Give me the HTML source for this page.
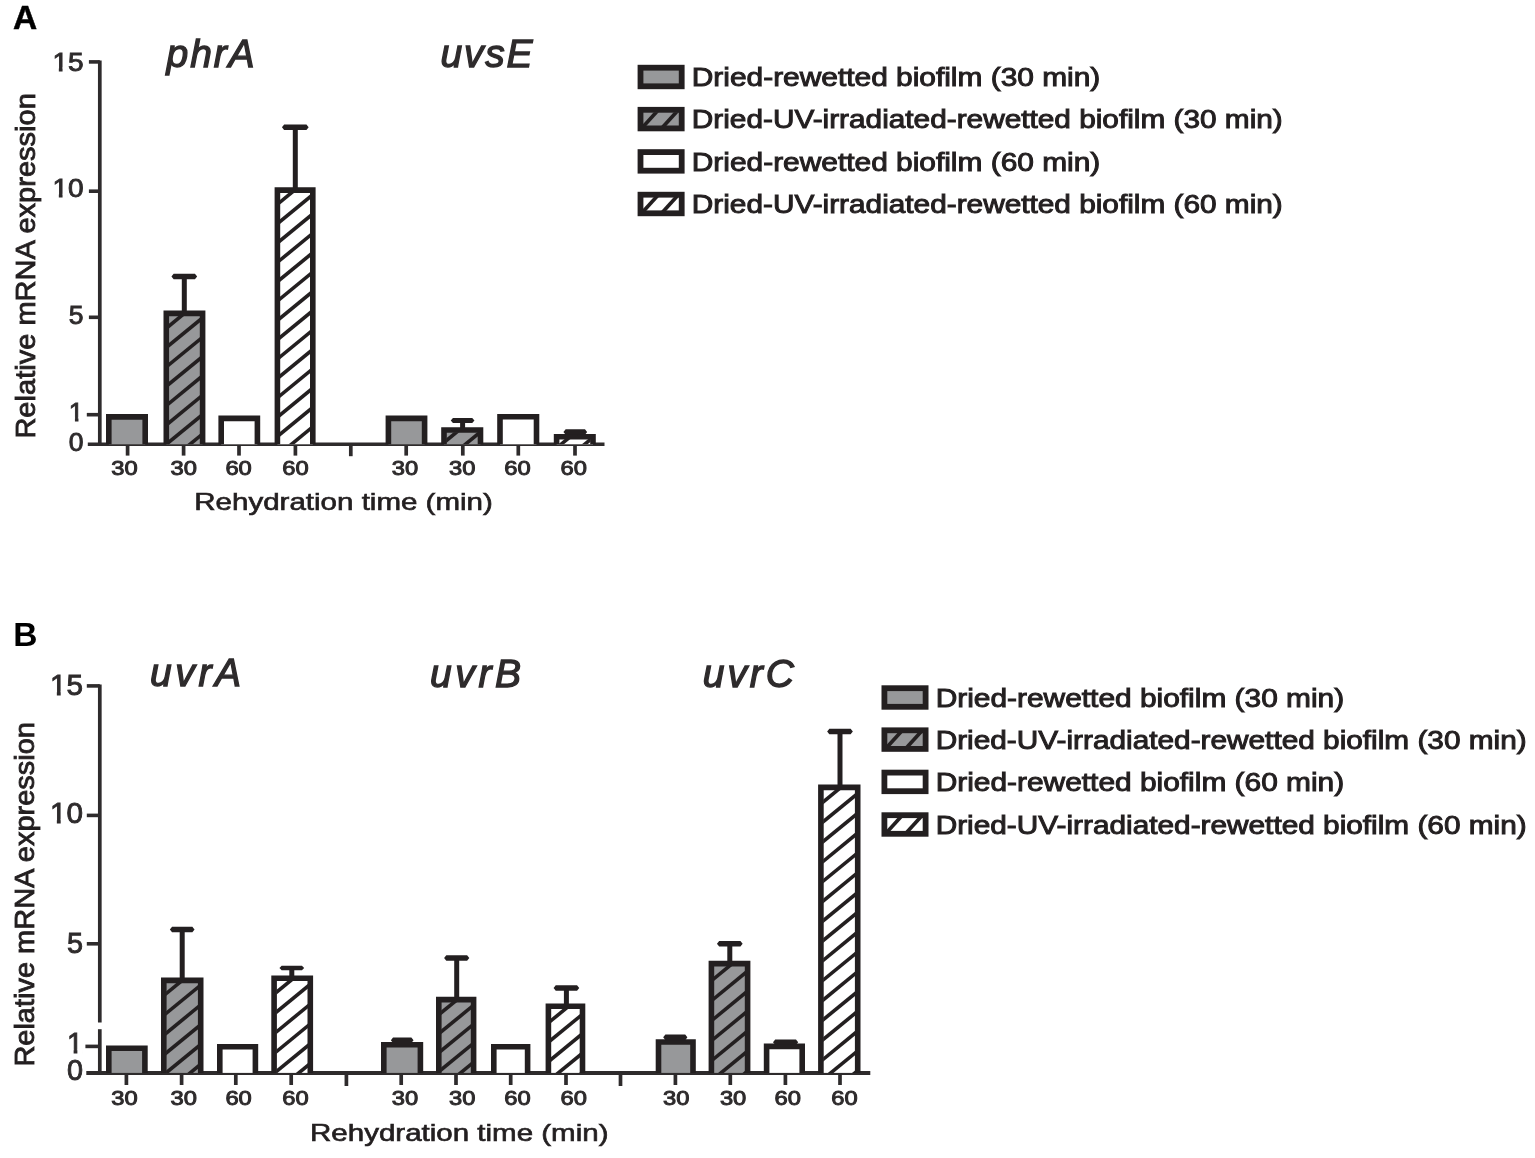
<!DOCTYPE html>
<html lang="en"><head><meta charset="utf-8"><title>Figure</title>
<style>
html,body{margin:0;padding:0;background:#fff;}
body{width:1535px;height:1158px;overflow:hidden;}
svg{display:block;}
text{white-space:pre;}
</style></head>
<body>
<svg width="1535" height="1158" viewBox="0 0 1535 1158">
<defs><clipPath id="c1"><rect x="168.60" y="315.70" width="31.70" height="128.60"/></clipPath><clipPath id="c2"><rect x="279.70" y="192.40" width="30.80" height="251.90"/></clipPath><clipPath id="c3"><rect x="446.30" y="432.30" width="31.90" height="12.00"/></clipPath><clipPath id="c4"><rect x="558.90" y="439.10" width="31.80" height="5.20"/></clipPath><clipPath id="c5"><rect x="166.10" y="982.70" width="32.30" height="90.20"/></clipPath><clipPath id="c6"><rect x="276.40" y="980.50" width="31.60" height="92.40"/></clipPath><clipPath id="c7"><rect x="441.10" y="1001.90" width="30.20" height="71.00"/></clipPath><clipPath id="c8"><rect x="550.70" y="1008.50" width="29.50" height="64.40"/></clipPath><clipPath id="c9"><rect x="713.70" y="965.90" width="31.60" height="107.00"/></clipPath><clipPath id="c10"><rect x="823.20" y="789.70" width="32.20" height="283.20"/></clipPath><clipPath id="c11"><rect x="642.90" y="112.20" width="36.40" height="13.80"/></clipPath><clipPath id="c12"><rect x="642.90" y="197.10" width="36.40" height="13.80"/></clipPath><clipPath id="c13"><rect x="886.80" y="732.70" width="36.40" height="13.80"/></clipPath><clipPath id="c14"><rect x="886.80" y="817.60" width="36.40" height="13.80"/></clipPath></defs>
<rect width="1535" height="1158" fill="#fff"/>
<text x="12.90" y="29.00" font-family='"Liberation Sans", Arial, Helvetica, sans-serif' font-size="33.5" fill="#000" font-weight="bold" stroke="#000" stroke-width="0.5">A</text>
<line x1="99.80" y1="60.40" x2="99.80" y2="444.30" stroke="#2e2b2c" stroke-width="3.7"/>
<line x1="88.90" y1="61.90" x2="99.80" y2="61.90" stroke="#2e2b2c" stroke-width="3.6"/>
<line x1="88.90" y1="191.20" x2="99.80" y2="191.20" stroke="#2e2b2c" stroke-width="3.6"/>
<line x1="88.90" y1="317.30" x2="99.80" y2="317.30" stroke="#2e2b2c" stroke-width="3.6"/>
<line x1="86.80" y1="414.70" x2="99.80" y2="414.70" stroke="#2e2b2c" stroke-width="3.6"/>
<line x1="87.80" y1="444.30" x2="604.50" y2="444.30" stroke="#2e2b2c" stroke-width="3.6"/>
<text x="83.60" y="71.00" font-family='"Liberation Sans", Arial, Helvetica, sans-serif' font-size="26.5" fill="#2e2b2c" text-anchor="end" textLength="31.20" lengthAdjust="spacingAndGlyphs" stroke="#2e2b2c" stroke-width="0.9">15</text>
<rect x="53.28" y="67.47" width="5.55" height="4.58" fill="#fff"/>
<rect x="62.56" y="67.47" width="5.32" height="4.58" fill="#fff"/>
<text x="83.60" y="197.40" font-family='"Liberation Sans", Arial, Helvetica, sans-serif' font-size="26.5" fill="#2e2b2c" text-anchor="end" textLength="31.20" lengthAdjust="spacingAndGlyphs" stroke="#2e2b2c" stroke-width="0.9">10</text>
<rect x="53.28" y="193.87" width="5.55" height="4.58" fill="#fff"/>
<rect x="62.56" y="193.87" width="5.32" height="4.58" fill="#fff"/>
<text x="83.60" y="323.60" font-family='"Liberation Sans", Arial, Helvetica, sans-serif' font-size="26.5" fill="#2e2b2c" text-anchor="end" stroke="#2e2b2c" stroke-width="0.9">5</text>
<text x="83.60" y="421.00" font-family='"Liberation Sans", Arial, Helvetica, sans-serif' font-size="26.5" fill="#2e2b2c" text-anchor="end" stroke="#2e2b2c" stroke-width="0.9">1</text>
<rect x="69.62" y="417.47" width="5.30" height="4.58" fill="#fff"/>
<rect x="78.47" y="417.47" width="5.09" height="4.58" fill="#fff"/>
<text x="83.60" y="451.30" font-family='"Liberation Sans", Arial, Helvetica, sans-serif' font-size="26.5" fill="#2e2b2c" text-anchor="end" stroke="#2e2b2c" stroke-width="0.9">0</text>
<line x1="127.60" y1="444.30" x2="127.60" y2="455.60" stroke="#2e2b2c" stroke-width="3.7"/>
<line x1="183.60" y1="444.30" x2="183.60" y2="455.60" stroke="#2e2b2c" stroke-width="3.7"/>
<line x1="239.00" y1="444.30" x2="239.00" y2="455.60" stroke="#2e2b2c" stroke-width="3.7"/>
<line x1="295.40" y1="444.30" x2="295.40" y2="455.60" stroke="#2e2b2c" stroke-width="3.7"/>
<line x1="406.20" y1="444.30" x2="406.20" y2="455.60" stroke="#2e2b2c" stroke-width="3.7"/>
<line x1="462.80" y1="444.30" x2="462.80" y2="455.60" stroke="#2e2b2c" stroke-width="3.7"/>
<line x1="518.30" y1="444.30" x2="518.30" y2="455.60" stroke="#2e2b2c" stroke-width="3.7"/>
<line x1="575.00" y1="444.30" x2="575.00" y2="455.60" stroke="#2e2b2c" stroke-width="3.7"/>
<line x1="350.80" y1="444.30" x2="350.80" y2="456.20" stroke="#2e2b2c" stroke-width="3.7"/>
<text x="124.40" y="475.40" font-family='"Liberation Sans", Arial, Helvetica, sans-serif' font-size="21" fill="#2e2b2c" text-anchor="middle" textLength="26.40" lengthAdjust="spacingAndGlyphs" stroke="#2e2b2c" stroke-width="1.0">30</text>
<text x="183.70" y="475.40" font-family='"Liberation Sans", Arial, Helvetica, sans-serif' font-size="21" fill="#2e2b2c" text-anchor="middle" textLength="26.40" lengthAdjust="spacingAndGlyphs" stroke="#2e2b2c" stroke-width="1.0">30</text>
<text x="238.60" y="475.40" font-family='"Liberation Sans", Arial, Helvetica, sans-serif' font-size="21" fill="#2e2b2c" text-anchor="middle" textLength="26.40" lengthAdjust="spacingAndGlyphs" stroke="#2e2b2c" stroke-width="1.0">60</text>
<text x="295.50" y="475.40" font-family='"Liberation Sans", Arial, Helvetica, sans-serif' font-size="21" fill="#2e2b2c" text-anchor="middle" textLength="26.40" lengthAdjust="spacingAndGlyphs" stroke="#2e2b2c" stroke-width="1.0">60</text>
<text x="405.00" y="475.40" font-family='"Liberation Sans", Arial, Helvetica, sans-serif' font-size="21" fill="#2e2b2c" text-anchor="middle" textLength="26.40" lengthAdjust="spacingAndGlyphs" stroke="#2e2b2c" stroke-width="1.0">30</text>
<text x="462.30" y="475.40" font-family='"Liberation Sans", Arial, Helvetica, sans-serif' font-size="21" fill="#2e2b2c" text-anchor="middle" textLength="26.40" lengthAdjust="spacingAndGlyphs" stroke="#2e2b2c" stroke-width="1.0">30</text>
<text x="517.40" y="475.40" font-family='"Liberation Sans", Arial, Helvetica, sans-serif' font-size="21" fill="#2e2b2c" text-anchor="middle" textLength="26.40" lengthAdjust="spacingAndGlyphs" stroke="#2e2b2c" stroke-width="1.0">60</text>
<text x="573.70" y="475.40" font-family='"Liberation Sans", Arial, Helvetica, sans-serif' font-size="21" fill="#2e2b2c" text-anchor="middle" textLength="26.40" lengthAdjust="spacingAndGlyphs" stroke="#2e2b2c" stroke-width="1.0">60</text>
<text x="194.30" y="510.20" font-family='"Liberation Sans", Arial, Helvetica, sans-serif' font-size="24" fill="#231f20" textLength="298.50" lengthAdjust="spacingAndGlyphs" stroke="#231f20" stroke-width="0.65">Rehydration time (min)</text>
<text x="35.20" y="438.60" font-family='"Liberation Sans", Arial, Helvetica, sans-serif' font-size="28" fill="#231f20" textLength="345.50" lengthAdjust="spacingAndGlyphs" stroke="#231f20" stroke-width="0.85" transform="rotate(-90 35.20 438.60)">Relative mRNA expression</text>
<text x="166.60" y="66.90" font-family='"Liberation Sans", Arial, Helvetica, sans-serif' font-size="39" fill="#2e2b2c" font-style="italic" textLength="88.00" lengthAdjust="spacing" stroke="#2e2b2c" stroke-width="1.3">phrA</text>
<text x="440.60" y="66.90" font-family='"Liberation Sans", Arial, Helvetica, sans-serif' font-size="39" fill="#2e2b2c" font-style="italic" textLength="92.00" lengthAdjust="spacing" stroke="#2e2b2c" stroke-width="1.3">uvsE</text>
<rect x="108.80" y="416.90" width="36.40" height="27.40" fill="#97989a"/>
<path d="M108.80 444.30V416.90H145.20V444.30" fill="none" stroke="#231f20" stroke-width="5.6" stroke-linejoin="miter"/>
<rect x="166.30" y="313.40" width="36.30" height="130.90" fill="#97989a"/>
<g clip-path="url(#c1)" stroke="#231f20" stroke-width="3.6" fill="none"><line x1="165.60" y1="290.09" x2="203.30" y2="259.17"/><line x1="165.60" y1="309.44" x2="203.30" y2="278.52"/><line x1="165.60" y1="328.79" x2="203.30" y2="297.87"/><line x1="165.60" y1="348.14" x2="203.30" y2="317.22"/><line x1="165.60" y1="367.49" x2="203.30" y2="336.57"/><line x1="165.60" y1="386.84" x2="203.30" y2="355.92"/><line x1="165.60" y1="406.19" x2="203.30" y2="375.27"/><line x1="165.60" y1="425.54" x2="203.30" y2="394.62"/><line x1="165.60" y1="444.89" x2="203.30" y2="413.97"/><line x1="165.60" y1="464.24" x2="203.30" y2="433.32"/><line x1="165.60" y1="483.59" x2="203.30" y2="452.67"/></g>
<path d="M166.30 444.30V313.40H202.60V444.30" fill="none" stroke="#231f20" stroke-width="5.6" stroke-linejoin="miter"/>
<rect x="221.20" y="418.40" width="36.20" height="25.90" fill="#fff"/>
<path d="M221.20 444.30V418.40H257.40V444.30" fill="none" stroke="#231f20" stroke-width="5.6" stroke-linejoin="miter"/>
<rect x="277.40" y="190.10" width="35.40" height="254.20" fill="#fff"/>
<g clip-path="url(#c2)" stroke="#231f20" stroke-width="3.6" fill="none"><line x1="276.70" y1="166.15" x2="313.50" y2="135.98"/><line x1="276.70" y1="185.50" x2="313.50" y2="155.33"/><line x1="276.70" y1="204.85" x2="313.50" y2="174.68"/><line x1="276.70" y1="224.20" x2="313.50" y2="194.03"/><line x1="276.70" y1="243.55" x2="313.50" y2="213.38"/><line x1="276.70" y1="262.90" x2="313.50" y2="232.73"/><line x1="276.70" y1="282.25" x2="313.50" y2="252.08"/><line x1="276.70" y1="301.60" x2="313.50" y2="271.43"/><line x1="276.70" y1="320.95" x2="313.50" y2="290.78"/><line x1="276.70" y1="340.30" x2="313.50" y2="310.13"/><line x1="276.70" y1="359.65" x2="313.50" y2="329.48"/><line x1="276.70" y1="379.00" x2="313.50" y2="348.83"/><line x1="276.70" y1="398.35" x2="313.50" y2="368.18"/><line x1="276.70" y1="417.70" x2="313.50" y2="387.53"/><line x1="276.70" y1="437.05" x2="313.50" y2="406.88"/><line x1="276.70" y1="456.40" x2="313.50" y2="426.23"/><line x1="276.70" y1="475.75" x2="313.50" y2="445.58"/><line x1="276.70" y1="495.10" x2="313.50" y2="464.93"/></g>
<path d="M277.40 444.30V190.10H312.80V444.30" fill="none" stroke="#231f20" stroke-width="5.6" stroke-linejoin="miter"/>
<line x1="184.30" y1="276.50" x2="184.30" y2="311.00" stroke="#231f20" stroke-width="5"/>
<polygon points="171.45,276.50 173.65,273.75 194.95,273.75 197.15,276.50 194.95,279.25 173.65,279.25" fill="#231f20"/>
<line x1="295.30" y1="127.20" x2="295.30" y2="188.00" stroke="#231f20" stroke-width="5"/>
<polygon points="281.95,127.20 284.15,124.45 306.45,124.45 308.65,127.20 306.45,129.95 284.15,129.95" fill="#231f20"/>
<rect x="388.40" y="418.40" width="36.20" height="25.90" fill="#97989a"/>
<path d="M388.40 444.30V418.40H424.60V444.30" fill="none" stroke="#231f20" stroke-width="5.6" stroke-linejoin="miter"/>
<rect x="444.00" y="430.00" width="36.50" height="14.30" fill="#97989a"/>
<g clip-path="url(#c3)" stroke="#231f20" stroke-width="3.6" fill="none"><line x1="443.30" y1="423.68" x2="481.20" y2="392.61"/><line x1="443.30" y1="443.03" x2="481.20" y2="411.96"/><line x1="443.30" y1="462.38" x2="481.20" y2="431.31"/><line x1="443.30" y1="481.73" x2="481.20" y2="450.66"/><line x1="443.30" y1="501.08" x2="481.20" y2="470.01"/></g>
<path d="M444.00 444.30V430.00H480.50V444.30" fill="none" stroke="#231f20" stroke-width="5.6" stroke-linejoin="miter"/>
<rect x="500.00" y="416.80" width="36.50" height="27.50" fill="#fff"/>
<path d="M500.00 444.30V416.80H536.50V444.30" fill="none" stroke="#231f20" stroke-width="5.6" stroke-linejoin="miter"/>
<rect x="556.60" y="436.80" width="36.40" height="7.50" fill="#fff"/>
<g clip-path="url(#c4)" stroke="#231f20" stroke-width="3.6" fill="none"><line x1="555.90" y1="429.19" x2="593.70" y2="398.20"/><line x1="555.90" y1="448.54" x2="593.70" y2="417.55"/><line x1="555.90" y1="467.89" x2="593.70" y2="436.90"/><line x1="555.90" y1="487.24" x2="593.70" y2="456.25"/></g>
<path d="M556.60 444.30V436.80H593.00V444.30" fill="none" stroke="#231f20" stroke-width="5.6" stroke-linejoin="miter"/>
<line x1="462.60" y1="420.60" x2="462.60" y2="428.00" stroke="#231f20" stroke-width="5"/>
<polygon points="450.75,420.60 452.95,418.10 472.25,418.10 474.45,420.60 472.25,423.10 452.95,423.10" fill="#231f20"/>
<line x1="575.30" y1="431.90" x2="575.30" y2="436.00" stroke="#231f20" stroke-width="5"/>
<polygon points="563.45,431.90 565.65,429.15 584.95,429.15 587.15,431.90 584.95,434.65 565.65,434.65" fill="#231f20"/>
<text x="13.30" y="646.00" font-family='"Liberation Sans", Arial, Helvetica, sans-serif' font-size="33.5" fill="#000" font-weight="bold">B</text>
<line x1="99.80" y1="684.40" x2="99.80" y2="1022.40" stroke="#2e2b2c" stroke-width="3.7"/>
<line x1="99.80" y1="1029.20" x2="99.80" y2="1072.90" stroke="#2e2b2c" stroke-width="3.7"/>
<line x1="86.80" y1="685.90" x2="99.80" y2="685.90" stroke="#2e2b2c" stroke-width="3.6"/>
<line x1="86.80" y1="815.40" x2="99.80" y2="815.40" stroke="#2e2b2c" stroke-width="3.6"/>
<line x1="86.80" y1="943.80" x2="99.80" y2="943.80" stroke="#2e2b2c" stroke-width="3.6"/>
<line x1="85.40" y1="1046.40" x2="99.80" y2="1046.40" stroke="#2e2b2c" stroke-width="3.6"/>
<line x1="86.30" y1="1072.90" x2="870.30" y2="1072.90" stroke="#2e2b2c" stroke-width="4.0"/>
<text x="83.00" y="695.20" font-family='"Liberation Sans", Arial, Helvetica, sans-serif' font-size="28.8" fill="#2e2b2c" text-anchor="end" textLength="33.00" lengthAdjust="spacingAndGlyphs" stroke="#2e2b2c" stroke-width="0.9">15</text>
<rect x="51.00" y="691.50" width="5.84" height="4.75" fill="#fff"/>
<rect x="60.69" y="691.50" width="5.61" height="4.75" fill="#fff"/>
<text x="83.00" y="823.20" font-family='"Liberation Sans", Arial, Helvetica, sans-serif' font-size="28.8" fill="#2e2b2c" text-anchor="end" textLength="33.00" lengthAdjust="spacingAndGlyphs" stroke="#2e2b2c" stroke-width="0.9">10</text>
<rect x="51.00" y="819.50" width="5.84" height="4.75" fill="#fff"/>
<rect x="60.69" y="819.50" width="5.61" height="4.75" fill="#fff"/>
<text x="83.00" y="953.10" font-family='"Liberation Sans", Arial, Helvetica, sans-serif' font-size="28.8" fill="#2e2b2c" text-anchor="end" stroke="#2e2b2c" stroke-width="0.9">5</text>
<text x="83.00" y="1053.40" font-family='"Liberation Sans", Arial, Helvetica, sans-serif' font-size="28.8" fill="#2e2b2c" text-anchor="end" stroke="#2e2b2c" stroke-width="0.9">1</text>
<rect x="67.92" y="1049.70" width="5.70" height="4.75" fill="#fff"/>
<rect x="77.37" y="1049.70" width="5.47" height="4.75" fill="#fff"/>
<text x="83.00" y="1080.00" font-family='"Liberation Sans", Arial, Helvetica, sans-serif' font-size="28.8" fill="#2e2b2c" text-anchor="end" stroke="#2e2b2c" stroke-width="0.9">0</text>
<line x1="126.40" y1="1072.90" x2="126.40" y2="1085.00" stroke="#2e2b2c" stroke-width="3.7"/>
<line x1="181.60" y1="1072.90" x2="181.60" y2="1085.00" stroke="#2e2b2c" stroke-width="3.7"/>
<line x1="235.80" y1="1072.90" x2="235.80" y2="1085.00" stroke="#2e2b2c" stroke-width="3.7"/>
<line x1="291.20" y1="1072.90" x2="291.20" y2="1085.00" stroke="#2e2b2c" stroke-width="3.7"/>
<line x1="401.20" y1="1072.90" x2="401.20" y2="1085.00" stroke="#2e2b2c" stroke-width="3.7"/>
<line x1="456.00" y1="1072.90" x2="456.00" y2="1085.00" stroke="#2e2b2c" stroke-width="3.7"/>
<line x1="510.70" y1="1072.90" x2="510.70" y2="1085.00" stroke="#2e2b2c" stroke-width="3.7"/>
<line x1="566.00" y1="1072.90" x2="566.00" y2="1085.00" stroke="#2e2b2c" stroke-width="3.7"/>
<line x1="675.40" y1="1072.90" x2="675.40" y2="1085.00" stroke="#2e2b2c" stroke-width="3.7"/>
<line x1="730.30" y1="1072.90" x2="730.30" y2="1085.00" stroke="#2e2b2c" stroke-width="3.7"/>
<line x1="785.40" y1="1072.90" x2="785.40" y2="1085.00" stroke="#2e2b2c" stroke-width="3.7"/>
<line x1="840.00" y1="1072.90" x2="840.00" y2="1085.00" stroke="#2e2b2c" stroke-width="3.7"/>
<line x1="346.40" y1="1072.90" x2="346.40" y2="1086.00" stroke="#2e2b2c" stroke-width="3.7"/>
<line x1="620.50" y1="1072.90" x2="620.50" y2="1086.00" stroke="#2e2b2c" stroke-width="3.7"/>
<text x="124.40" y="1105.00" font-family='"Liberation Sans", Arial, Helvetica, sans-serif' font-size="21" fill="#2e2b2c" text-anchor="middle" textLength="26.40" lengthAdjust="spacingAndGlyphs" stroke="#2e2b2c" stroke-width="1.0">30</text>
<text x="183.70" y="1105.00" font-family='"Liberation Sans", Arial, Helvetica, sans-serif' font-size="21" fill="#2e2b2c" text-anchor="middle" textLength="26.40" lengthAdjust="spacingAndGlyphs" stroke="#2e2b2c" stroke-width="1.0">30</text>
<text x="238.60" y="1105.00" font-family='"Liberation Sans", Arial, Helvetica, sans-serif' font-size="21" fill="#2e2b2c" text-anchor="middle" textLength="26.40" lengthAdjust="spacingAndGlyphs" stroke="#2e2b2c" stroke-width="1.0">60</text>
<text x="295.50" y="1105.00" font-family='"Liberation Sans", Arial, Helvetica, sans-serif' font-size="21" fill="#2e2b2c" text-anchor="middle" textLength="26.40" lengthAdjust="spacingAndGlyphs" stroke="#2e2b2c" stroke-width="1.0">60</text>
<text x="405.00" y="1105.00" font-family='"Liberation Sans", Arial, Helvetica, sans-serif' font-size="21" fill="#2e2b2c" text-anchor="middle" textLength="26.40" lengthAdjust="spacingAndGlyphs" stroke="#2e2b2c" stroke-width="1.0">30</text>
<text x="462.30" y="1105.00" font-family='"Liberation Sans", Arial, Helvetica, sans-serif' font-size="21" fill="#2e2b2c" text-anchor="middle" textLength="26.40" lengthAdjust="spacingAndGlyphs" stroke="#2e2b2c" stroke-width="1.0">30</text>
<text x="517.40" y="1105.00" font-family='"Liberation Sans", Arial, Helvetica, sans-serif' font-size="21" fill="#2e2b2c" text-anchor="middle" textLength="26.40" lengthAdjust="spacingAndGlyphs" stroke="#2e2b2c" stroke-width="1.0">60</text>
<text x="573.70" y="1105.00" font-family='"Liberation Sans", Arial, Helvetica, sans-serif' font-size="21" fill="#2e2b2c" text-anchor="middle" textLength="26.40" lengthAdjust="spacingAndGlyphs" stroke="#2e2b2c" stroke-width="1.0">60</text>
<text x="676.20" y="1105.00" font-family='"Liberation Sans", Arial, Helvetica, sans-serif' font-size="21" fill="#2e2b2c" text-anchor="middle" textLength="26.40" lengthAdjust="spacingAndGlyphs" stroke="#2e2b2c" stroke-width="1.0">30</text>
<text x="733.10" y="1105.00" font-family='"Liberation Sans", Arial, Helvetica, sans-serif' font-size="21" fill="#2e2b2c" text-anchor="middle" textLength="26.40" lengthAdjust="spacingAndGlyphs" stroke="#2e2b2c" stroke-width="1.0">30</text>
<text x="787.80" y="1105.00" font-family='"Liberation Sans", Arial, Helvetica, sans-serif' font-size="21" fill="#2e2b2c" text-anchor="middle" textLength="26.40" lengthAdjust="spacingAndGlyphs" stroke="#2e2b2c" stroke-width="1.0">60</text>
<text x="844.50" y="1105.00" font-family='"Liberation Sans", Arial, Helvetica, sans-serif' font-size="21" fill="#2e2b2c" text-anchor="middle" textLength="26.40" lengthAdjust="spacingAndGlyphs" stroke="#2e2b2c" stroke-width="1.0">60</text>
<text x="310.00" y="1141.30" font-family='"Liberation Sans", Arial, Helvetica, sans-serif' font-size="24" fill="#231f20" textLength="298.50" lengthAdjust="spacingAndGlyphs" stroke="#231f20" stroke-width="0.65">Rehydration time (min)</text>
<text x="33.60" y="1066.60" font-family='"Liberation Sans", Arial, Helvetica, sans-serif' font-size="28" fill="#231f20" textLength="344.50" lengthAdjust="spacingAndGlyphs" stroke="#231f20" stroke-width="0.85" transform="rotate(-90 33.60 1066.60)">Relative mRNA expression</text>
<text x="150.00" y="686.00" font-family='"Liberation Sans", Arial, Helvetica, sans-serif' font-size="39" fill="#2e2b2c" font-style="italic" textLength="91.00" lengthAdjust="spacing" stroke="#2e2b2c" stroke-width="1.3">uvrA</text>
<text x="430.00" y="686.70" font-family='"Liberation Sans", Arial, Helvetica, sans-serif' font-size="39" fill="#2e2b2c" font-style="italic" textLength="91.00" lengthAdjust="spacing" stroke="#2e2b2c" stroke-width="1.3">uvrB</text>
<text x="702.80" y="686.90" font-family='"Liberation Sans", Arial, Helvetica, sans-serif' font-size="39" fill="#2e2b2c" font-style="italic" textLength="91.00" lengthAdjust="spacing" stroke="#2e2b2c" stroke-width="1.3">uvrC</text>
<rect x="108.80" y="1048.30" width="36.10" height="24.60" fill="#97989a"/>
<path d="M108.80 1072.90V1048.30H144.90V1072.90" fill="none" stroke="#231f20" stroke-width="5.6" stroke-linejoin="miter"/>
<rect x="163.80" y="980.40" width="36.90" height="92.50" fill="#97989a"/>
<g clip-path="url(#c5)" stroke="#231f20" stroke-width="3.6" fill="none"><line x1="163.10" y1="956.52" x2="201.40" y2="925.12"/><line x1="163.10" y1="976.32" x2="201.40" y2="944.92"/><line x1="163.10" y1="996.12" x2="201.40" y2="964.72"/><line x1="163.10" y1="1015.92" x2="201.40" y2="984.52"/><line x1="163.10" y1="1035.72" x2="201.40" y2="1004.32"/><line x1="163.10" y1="1055.52" x2="201.40" y2="1024.12"/><line x1="163.10" y1="1075.32" x2="201.40" y2="1043.92"/><line x1="163.10" y1="1095.12" x2="201.40" y2="1063.72"/><line x1="163.10" y1="1114.92" x2="201.40" y2="1083.52"/></g>
<path d="M163.80 1072.90V980.40H200.70V1072.90" fill="none" stroke="#231f20" stroke-width="5.6" stroke-linejoin="miter"/>
<rect x="219.80" y="1046.80" width="35.60" height="26.10" fill="#fff"/>
<path d="M219.80 1072.90V1046.80H255.40V1072.90" fill="none" stroke="#231f20" stroke-width="5.6" stroke-linejoin="miter"/>
<rect x="274.10" y="978.20" width="36.20" height="94.70" fill="#fff"/>
<g clip-path="url(#c6)" stroke="#231f20" stroke-width="3.6" fill="none"><line x1="273.40" y1="955.14" x2="311.00" y2="924.31"/><line x1="273.40" y1="974.94" x2="311.00" y2="944.11"/><line x1="273.40" y1="994.74" x2="311.00" y2="963.91"/><line x1="273.40" y1="1014.54" x2="311.00" y2="983.71"/><line x1="273.40" y1="1034.34" x2="311.00" y2="1003.51"/><line x1="273.40" y1="1054.14" x2="311.00" y2="1023.31"/><line x1="273.40" y1="1073.94" x2="311.00" y2="1043.11"/><line x1="273.40" y1="1093.74" x2="311.00" y2="1062.91"/><line x1="273.40" y1="1113.54" x2="311.00" y2="1082.71"/></g>
<path d="M274.10 1072.90V978.20H310.30V1072.90" fill="none" stroke="#231f20" stroke-width="5.6" stroke-linejoin="miter"/>
<line x1="182.20" y1="929.50" x2="182.20" y2="979.00" stroke="#231f20" stroke-width="5"/>
<polygon points="169.85,929.50 172.05,926.75 192.35,926.75 194.55,929.50 192.35,932.25 172.05,932.25" fill="#231f20"/>
<line x1="291.80" y1="968.00" x2="291.80" y2="977.00" stroke="#231f20" stroke-width="5"/>
<polygon points="279.45,968.00 281.65,965.75 301.95,965.75 304.15,968.00 301.95,970.25 281.65,970.25" fill="#231f20"/>
<rect x="383.80" y="1044.80" width="36.60" height="28.10" fill="#97989a"/>
<path d="M383.80 1072.90V1044.80H420.40V1072.90" fill="none" stroke="#231f20" stroke-width="5.6" stroke-linejoin="miter"/>
<rect x="438.80" y="999.60" width="34.80" height="73.30" fill="#97989a"/>
<g clip-path="url(#c7)" stroke="#231f20" stroke-width="3.6" fill="none"><line x1="438.10" y1="977.33" x2="474.30" y2="947.65"/><line x1="438.10" y1="996.33" x2="474.30" y2="966.65"/><line x1="438.10" y1="1015.33" x2="474.30" y2="985.65"/><line x1="438.10" y1="1034.33" x2="474.30" y2="1004.65"/><line x1="438.10" y1="1053.33" x2="474.30" y2="1023.65"/><line x1="438.10" y1="1072.33" x2="474.30" y2="1042.65"/><line x1="438.10" y1="1091.33" x2="474.30" y2="1061.65"/><line x1="438.10" y1="1110.33" x2="474.30" y2="1080.65"/></g>
<path d="M438.80 1072.90V999.60H473.60V1072.90" fill="none" stroke="#231f20" stroke-width="5.6" stroke-linejoin="miter"/>
<rect x="493.80" y="1046.80" width="33.80" height="26.10" fill="#fff"/>
<path d="M493.80 1072.90V1046.80H527.60V1072.90" fill="none" stroke="#231f20" stroke-width="5.6" stroke-linejoin="miter"/>
<rect x="548.40" y="1006.20" width="34.10" height="66.70" fill="#fff"/>
<g clip-path="url(#c8)" stroke="#231f20" stroke-width="3.6" fill="none"><line x1="547.70" y1="984.62" x2="583.20" y2="955.51"/><line x1="547.70" y1="1004.02" x2="583.20" y2="974.91"/><line x1="547.70" y1="1023.42" x2="583.20" y2="994.31"/><line x1="547.70" y1="1042.82" x2="583.20" y2="1013.71"/><line x1="547.70" y1="1062.22" x2="583.20" y2="1033.11"/><line x1="547.70" y1="1081.62" x2="583.20" y2="1052.51"/><line x1="547.70" y1="1101.02" x2="583.20" y2="1071.91"/><line x1="547.70" y1="1120.42" x2="583.20" y2="1091.31"/></g>
<path d="M548.40 1072.90V1006.20H582.50V1072.90" fill="none" stroke="#231f20" stroke-width="5.6" stroke-linejoin="miter"/>
<line x1="402.20" y1="1040.20" x2="402.20" y2="1043.00" stroke="#231f20" stroke-width="5"/>
<polygon points="390.85,1040.20 393.05,1037.50 411.35,1037.50 413.55,1040.20 411.35,1042.90 393.05,1042.90" fill="#231f20"/>
<line x1="456.70" y1="958.00" x2="456.70" y2="998.00" stroke="#231f20" stroke-width="5"/>
<polygon points="444.10,958.00 446.30,955.25 467.10,955.25 469.30,958.00 467.10,960.75 446.30,960.75" fill="#231f20"/>
<line x1="566.40" y1="987.90" x2="566.40" y2="1005.00" stroke="#231f20" stroke-width="5"/>
<polygon points="553.55,987.90 555.75,985.15 577.05,985.15 579.25,987.90 577.05,990.65 555.75,990.65" fill="#231f20"/>
<rect x="658.50" y="1042.00" width="34.50" height="30.90" fill="#97989a"/>
<path d="M658.50 1072.90V1042.00H693.00V1072.90" fill="none" stroke="#231f20" stroke-width="5.6" stroke-linejoin="miter"/>
<rect x="711.40" y="963.60" width="36.20" height="109.30" fill="#97989a"/>
<g clip-path="url(#c9)" stroke="#231f20" stroke-width="3.6" fill="none"><line x1="710.70" y1="941.34" x2="748.30" y2="910.51"/><line x1="710.70" y1="961.34" x2="748.30" y2="930.51"/><line x1="710.70" y1="981.34" x2="748.30" y2="950.51"/><line x1="710.70" y1="1001.34" x2="748.30" y2="970.51"/><line x1="710.70" y1="1021.34" x2="748.30" y2="990.51"/><line x1="710.70" y1="1041.34" x2="748.30" y2="1010.51"/><line x1="710.70" y1="1061.34" x2="748.30" y2="1030.51"/><line x1="710.70" y1="1081.34" x2="748.30" y2="1050.51"/><line x1="710.70" y1="1101.34" x2="748.30" y2="1070.51"/><line x1="710.70" y1="1121.34" x2="748.30" y2="1090.51"/></g>
<path d="M711.40 1072.90V963.60H747.60V1072.90" fill="none" stroke="#231f20" stroke-width="5.6" stroke-linejoin="miter"/>
<rect x="766.60" y="1046.40" width="35.60" height="26.50" fill="#fff"/>
<path d="M766.60 1072.90V1046.40H802.20V1072.90" fill="none" stroke="#231f20" stroke-width="5.6" stroke-linejoin="miter"/>
<rect x="820.90" y="787.40" width="36.80" height="285.50" fill="#fff"/>
<g clip-path="url(#c10)" stroke="#231f20" stroke-width="3.6" fill="none"><line x1="820.20" y1="764.76" x2="858.40" y2="733.44"/><line x1="820.20" y1="784.56" x2="858.40" y2="753.24"/><line x1="820.20" y1="804.36" x2="858.40" y2="773.04"/><line x1="820.20" y1="824.16" x2="858.40" y2="792.84"/><line x1="820.20" y1="843.96" x2="858.40" y2="812.64"/><line x1="820.20" y1="863.76" x2="858.40" y2="832.44"/><line x1="820.20" y1="883.56" x2="858.40" y2="852.24"/><line x1="820.20" y1="903.36" x2="858.40" y2="872.04"/><line x1="820.20" y1="923.16" x2="858.40" y2="891.84"/><line x1="820.20" y1="942.96" x2="858.40" y2="911.64"/><line x1="820.20" y1="962.76" x2="858.40" y2="931.44"/><line x1="820.20" y1="982.56" x2="858.40" y2="951.24"/><line x1="820.20" y1="1002.36" x2="858.40" y2="971.04"/><line x1="820.20" y1="1022.16" x2="858.40" y2="990.84"/><line x1="820.20" y1="1041.96" x2="858.40" y2="1010.64"/><line x1="820.20" y1="1061.76" x2="858.40" y2="1030.44"/><line x1="820.20" y1="1081.56" x2="858.40" y2="1050.24"/><line x1="820.20" y1="1101.36" x2="858.40" y2="1070.04"/><line x1="820.20" y1="1121.16" x2="858.40" y2="1089.84"/></g>
<path d="M820.90 1072.90V787.40H857.70V1072.90" fill="none" stroke="#231f20" stroke-width="5.6" stroke-linejoin="miter"/>
<line x1="675.30" y1="1037.30" x2="675.30" y2="1040.00" stroke="#231f20" stroke-width="5"/>
<polygon points="663.20,1037.30 665.40,1034.40 685.20,1034.40 687.40,1037.30 685.20,1040.20 665.40,1040.20" fill="#231f20"/>
<line x1="729.80" y1="943.80" x2="729.80" y2="962.00" stroke="#231f20" stroke-width="5"/>
<polygon points="716.95,943.80 719.15,941.05 740.45,941.05 742.65,943.80 740.45,946.55 719.15,946.55" fill="#231f20"/>
<line x1="785.60" y1="1042.20" x2="785.60" y2="1044.50" stroke="#231f20" stroke-width="5"/>
<polygon points="773.00,1042.20 775.20,1039.60 796.00,1039.60 798.20,1042.20 796.00,1044.80 775.20,1044.80" fill="#231f20"/>
<line x1="840.00" y1="731.40" x2="840.00" y2="786.00" stroke="#231f20" stroke-width="5"/>
<polygon points="827.15,731.40 829.35,728.65 850.65,728.65 852.85,731.40 850.65,734.15 829.35,734.15" fill="#231f20"/>
<rect x="640.50" y="67.70" width="41.20" height="18.60" fill="#97989a"/>
<rect x="640.50" y="67.70" width="41.20" height="18.60" fill="none" stroke="#231f20" stroke-width="5.8"/>
<text x="691.80" y="86.20" font-family='"Liberation Sans", Arial, Helvetica, sans-serif' font-size="25.2" fill="#231f20" textLength="408.50" lengthAdjust="spacingAndGlyphs" stroke="#231f20" stroke-width="0.95">Dried-rewetted biofilm (30 min)</text>
<rect x="640.50" y="109.80" width="41.20" height="18.60" fill="#97989a"/>
<g clip-path="url(#c11)" stroke="#231f20" stroke-width="3.7" fill="none"><line x1="639.90" y1="86.21" x2="682.30" y2="39.57"/><line x1="639.90" y1="108.21" x2="682.30" y2="61.57"/><line x1="639.90" y1="130.21" x2="682.30" y2="83.57"/><line x1="639.90" y1="152.21" x2="682.30" y2="105.57"/><line x1="639.90" y1="174.21" x2="682.30" y2="127.57"/><line x1="639.90" y1="196.21" x2="682.30" y2="149.57"/></g>
<rect x="640.50" y="109.80" width="41.20" height="18.60" fill="none" stroke="#231f20" stroke-width="5.8"/>
<text x="691.80" y="128.30" font-family='"Liberation Sans", Arial, Helvetica, sans-serif' font-size="25.2" fill="#231f20" textLength="591.00" lengthAdjust="spacingAndGlyphs" stroke="#231f20" stroke-width="0.95">Dried-UV-irradiated-rewetted biofilm (30 min)</text>
<rect x="640.50" y="152.10" width="41.20" height="18.60" fill="#fff"/>
<rect x="640.50" y="152.10" width="41.20" height="18.60" fill="none" stroke="#231f20" stroke-width="5.8"/>
<text x="691.80" y="170.60" font-family='"Liberation Sans", Arial, Helvetica, sans-serif' font-size="25.2" fill="#231f20" textLength="408.50" lengthAdjust="spacingAndGlyphs" stroke="#231f20" stroke-width="0.95">Dried-rewetted biofilm (60 min)</text>
<rect x="640.50" y="194.70" width="41.20" height="18.60" fill="#fff"/>
<g clip-path="url(#c12)" stroke="#231f20" stroke-width="3.7" fill="none"><line x1="639.90" y1="171.11" x2="682.30" y2="124.47"/><line x1="639.90" y1="193.11" x2="682.30" y2="146.47"/><line x1="639.90" y1="215.11" x2="682.30" y2="168.47"/><line x1="639.90" y1="237.11" x2="682.30" y2="190.47"/><line x1="639.90" y1="259.11" x2="682.30" y2="212.47"/><line x1="639.90" y1="281.11" x2="682.30" y2="234.47"/></g>
<rect x="640.50" y="194.70" width="41.20" height="18.60" fill="none" stroke="#231f20" stroke-width="5.8"/>
<text x="691.80" y="213.20" font-family='"Liberation Sans", Arial, Helvetica, sans-serif' font-size="25.2" fill="#231f20" textLength="591.00" lengthAdjust="spacingAndGlyphs" stroke="#231f20" stroke-width="0.95">Dried-UV-irradiated-rewetted biofilm (60 min)</text>
<rect x="884.40" y="688.20" width="41.20" height="18.60" fill="#97989a"/>
<rect x="884.40" y="688.20" width="41.20" height="18.60" fill="none" stroke="#231f20" stroke-width="5.8"/>
<text x="935.70" y="706.70" font-family='"Liberation Sans", Arial, Helvetica, sans-serif' font-size="25.2" fill="#231f20" textLength="408.50" lengthAdjust="spacingAndGlyphs" stroke="#231f20" stroke-width="0.95">Dried-rewetted biofilm (30 min)</text>
<rect x="884.40" y="730.30" width="41.20" height="18.60" fill="#97989a"/>
<g clip-path="url(#c13)" stroke="#231f20" stroke-width="3.7" fill="none"><line x1="883.80" y1="706.71" x2="926.20" y2="660.07"/><line x1="883.80" y1="728.71" x2="926.20" y2="682.07"/><line x1="883.80" y1="750.71" x2="926.20" y2="704.07"/><line x1="883.80" y1="772.71" x2="926.20" y2="726.07"/><line x1="883.80" y1="794.71" x2="926.20" y2="748.07"/><line x1="883.80" y1="816.71" x2="926.20" y2="770.07"/></g>
<rect x="884.40" y="730.30" width="41.20" height="18.60" fill="none" stroke="#231f20" stroke-width="5.8"/>
<text x="935.70" y="748.80" font-family='"Liberation Sans", Arial, Helvetica, sans-serif' font-size="25.2" fill="#231f20" textLength="591.00" lengthAdjust="spacingAndGlyphs" stroke="#231f20" stroke-width="0.95">Dried-UV-irradiated-rewetted biofilm (30 min)</text>
<rect x="884.40" y="772.60" width="41.20" height="18.60" fill="#fff"/>
<rect x="884.40" y="772.60" width="41.20" height="18.60" fill="none" stroke="#231f20" stroke-width="5.8"/>
<text x="935.70" y="791.10" font-family='"Liberation Sans", Arial, Helvetica, sans-serif' font-size="25.2" fill="#231f20" textLength="408.50" lengthAdjust="spacingAndGlyphs" stroke="#231f20" stroke-width="0.95">Dried-rewetted biofilm (60 min)</text>
<rect x="884.40" y="815.20" width="41.20" height="18.60" fill="#fff"/>
<g clip-path="url(#c14)" stroke="#231f20" stroke-width="3.7" fill="none"><line x1="883.80" y1="791.61" x2="926.20" y2="744.97"/><line x1="883.80" y1="813.61" x2="926.20" y2="766.97"/><line x1="883.80" y1="835.61" x2="926.20" y2="788.97"/><line x1="883.80" y1="857.61" x2="926.20" y2="810.97"/><line x1="883.80" y1="879.61" x2="926.20" y2="832.97"/><line x1="883.80" y1="901.61" x2="926.20" y2="854.97"/></g>
<rect x="884.40" y="815.20" width="41.20" height="18.60" fill="none" stroke="#231f20" stroke-width="5.8"/>
<text x="935.70" y="833.70" font-family='"Liberation Sans", Arial, Helvetica, sans-serif' font-size="25.2" fill="#231f20" textLength="591.00" lengthAdjust="spacingAndGlyphs" stroke="#231f20" stroke-width="0.95">Dried-UV-irradiated-rewetted biofilm (60 min)</text>
</svg>
</body></html>
